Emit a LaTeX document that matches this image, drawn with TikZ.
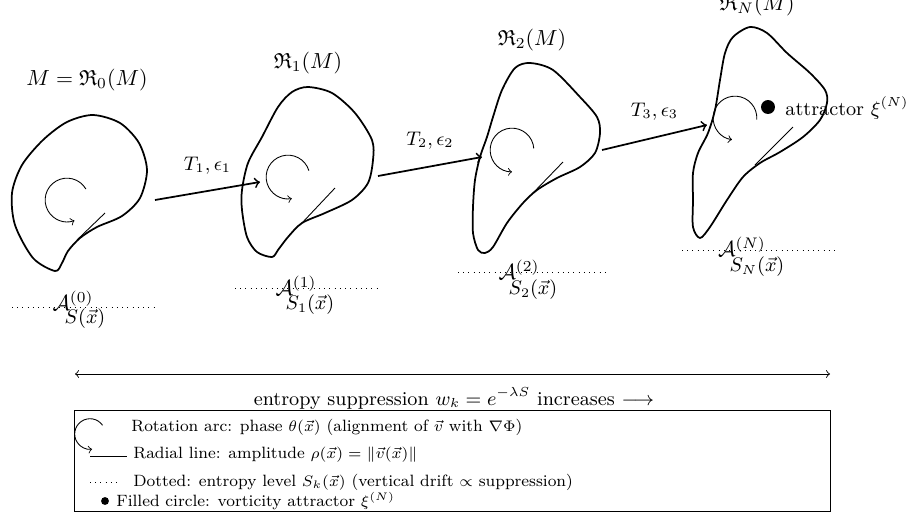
\documentclass[tikz,border=0pt]{standalone}
\usepackage{amssymb}
\usepackage{tikz}
\tikzset{
  blob/.style     = {thick, line join=round},
  rotarc/.style   = {->},
  radline/.style  = {thin},
  lvl/.style      = {dotted},
  flow/.style     = {->, thick},
  stagelbl/.style = {font=\normalsize},
  sublbl/.style   = {font=\small},
  legtxt/.style   = {font=\fontsize{7.5pt}{9pt}\selectfont, anchor=west, inner sep=0pt},
}

\begin{document}
\begin{tikzpicture}[x=0.4577pt, y=-0.4577pt]
\useasboundingbox (0,0) rectangle (909,517);

% stage outlines
\draw[blob] plot[smooth cycle] coordinates {(55,271) (33,258) (15,225) (12,193) (22,165) (43,140) (67,122) (93,115) (120,123) (139,143) (147,170) (140,198) (122,216) (97,227) (80,238) (68,251) (62,263)};
\draw[blob] plot[smooth cycle] coordinates {(272,257) (257,252) (247,237) (242,210) (242,190) (248,163) (262,137) (278,107) (292,92) (308,87) (332,93) (355,113) (372,140) (373,160) (368,183) (352,200) (325,213) (302,223) (288,237) (278,250)};
\draw[blob] plot[smooth cycle] coordinates {(485,253) (478,250) (473,233) (473,207) (475,180) (480,157) (487,137) (493,117) (502,90) (515,68) (530,63) (553,70) (580,97) (597,117) (600,133) (595,153) (580,167) (557,178) (537,190) (523,203) (507,223) (493,247)};
\draw[blob] plot[smooth cycle] coordinates {(700,238) (693,227) (693,200) (693,173) (698,153) (708,133) (715,110) (720,80) (725,53) (733,37) (750,27) (767,33) (787,53) (810,73) (825,90) (827,103) (820,120) (803,137) (780,152) (760,163) (743,177) (727,200) (710,227)};

% rotation arcs and radial lines
\draw[rotarc] (67,200) ++(30:10pt) arc[start angle=30, end angle=290, radius=10pt];
\draw[rotarc] (288,177) ++(17:10pt) arc[start angle=17, end angle=280, radius=10pt];
\draw[rotarc] (512,150) ++(4:10pt) arc[start angle=4, end angle=270, radius=10pt];
\draw[rotarc] (735,118) ++(-4:10pt) arc[start angle=-4, end angle=262, radius=10pt];
\draw[radline] (77,240) -- (105,213);
\draw[radline] (302,223) -- (335,188);
\draw[radline] (533,193) -- (563,162);
\draw[radline] (755,165) -- (793,127);

% stage titles
\node[stagelbl] (m0) at (87,80) {$M = \mathfrak{R}_0(M)$};
\node[stagelbl] (m1) at (308,63) {$\mathfrak{R}_1(M)$};
\node[stagelbl] (m2) at (532,40) {$\mathfrak{R}_2(M)$};
\node[stagelbl] (mN) at (757,5) {$\mathfrak{R}_N(M)$};

% transitions
\coordinate (r0out) at (155,200);
\coordinate (r1in)  at (260,182);
\coordinate (r1out) at (378,176);
\coordinate (r2in)  at (482,157);
\coordinate (r2out) at (602,150);
\coordinate (rNin)  at (707,125);
\draw[flow] (r0out) -- node[sublbl, above=4pt] {$T_1, \epsilon_1$} (r1in);
\draw[flow] (r1out) -- node[sublbl, above=4pt] {$T_2, \epsilon_2$} (r2in);
\draw[flow] (r2out) -- node[sublbl, above=4pt] {$T_3, \epsilon_3$} (rNin);

% attractor
\node[circle, fill, inner sep=0pt, minimum size=6.4pt] (attr) at (768,107) {};
\node[sublbl, anchor=base west, inner sep=0pt] (attrlbl) at (785,115) {attractor $\xi^{(N)}$};

% entropy levels
\draw[lvl] (12,307) -- (155,307);
\draw[lvl] (235,288) -- (378,288);
\draw[lvl] (458,272) -- (605,272);
\draw[lvl] (682,250) -- (835,250);
\node[stagelbl] (a0) at (73,301) {$\mathcal{A}^{(0)}$};
\node[stagelbl] (a1) at (296,286) {$\mathcal{A}^{(1)}$};
\node[stagelbl] (a2) at (519,270) {$\mathcal{A}^{(2)}$};
\node[stagelbl] (aN) at (742,247) {$\mathcal{A}^{(N)}$};
\node[sublbl] (s0) at (85,319) {$S(\vec{x})$};
\node[sublbl] (s1) at (310,305) {$S_1(\vec{x})$};
\node[sublbl] (s2) at (533,290) {$S_2(\vec{x})$};
\node[sublbl] (sN) at (757,267) {$S_N(\vec{x})$};

% suppression axis
\coordinate (axl) at (75,374);
\coordinate (axr) at (830,374);
\draw[<->] (axl) -- (axr);
\node[sublbl, anchor=base] (supp) at (454,405) {entropy suppression $w_k = e^{-\lambda S}$ increases $\longrightarrow$};

% legend
\draw (74,410) rectangle (830,511);
\draw[rotarc] (90,434) ++(35:7pt) arc[start angle=35, end angle=278, radius=7pt];
\node[legtxt] (leg1) at (131,427) {Rotation arc: phase $\theta(\vec{x})$ (alignment of $\vec{v}$ with $\nabla\Phi$)};
\draw[radline] (90,456) -- (127,456);
\node[legtxt] (leg2) at (133,455) {Radial line: amplitude $\rho(\vec{x}) = \|\vec{v}(\vec{x})\|$};
\draw[lvl] (90,482) -- (120,482);
\node[legtxt] (leg3) at (133,482) {Dotted: entropy level $S_k(\vec{x})$ (vertical drift $\propto$ suppression)};
\fill (105,501) circle[radius=1.8pt];
\node[legtxt] (leg4) at (116,501) {Filled circle: vorticity attractor $\xi^{(N)}$};
\end{tikzpicture}
\end{document}
